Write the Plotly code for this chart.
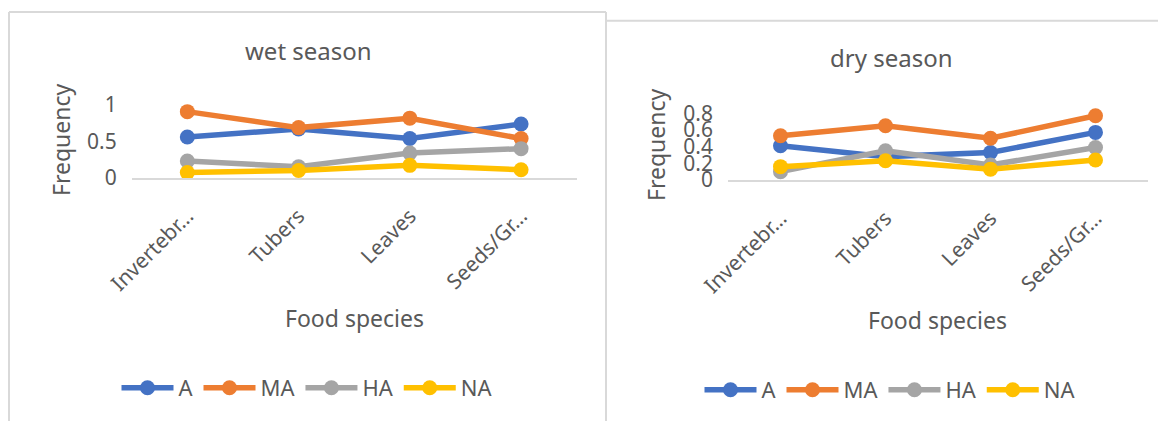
import plotly.graph_objects as go

W, H = 1166, 421
OFF = 8  # page body margin of the html page

categories = ["Invertebr…", "Tubers", "Leaves", "Seeds/Gr…"]
series_names = ["A", "MA", "HA", "NA"]
series_colors = ["#4472C4", "#ED7D31", "#A5A5A5", "#FFC000"]

wet_A = [0.56, 0.67, 0.54, 0.74]
wet_MA = [0.91, 0.69, 0.82, 0.54]
wet_HA = [0.23, 0.15, 0.34, 0.40]
wet_NA = [0.07, 0.10, 0.17, 0.11]

dry_A = [0.41, 0.28, 0.33, 0.57]
dry_MA = [0.53, 0.65, 0.50, 0.77]
dry_HA = [0.10, 0.35, 0.18, 0.39]
dry_NA = [0.16, 0.23, 0.13, 0.24]

wet_ticks = [0, 0.5, 1]
dry_ticks = [0, 0.2, 0.4, 0.6, 0.8]

TXT = "#595959"
FONT = "Noto Sans"

def px(x):
    return (x - OFF) / W

def py(y):
    return 1 - (y - OFF) / H

fig = go.Figure()

wet = [wet_A, wet_MA, wet_HA, wet_NA]
dry = [dry_A, dry_MA, dry_HA, dry_NA]

for name, col, vals in zip(series_names, series_colors, wet):
    fig.add_trace(go.Scatter(x=categories, y=vals, name=name, mode="lines+markers",
                             line=dict(color=col, width=5.5),
                             marker=dict(color=col, size=15),
                             cliponaxis=False, xaxis="x", yaxis="y", legend="legend"))
for name, col, vals in zip(series_names, series_colors, dry):
    fig.add_trace(go.Scatter(x=categories, y=vals, name=name, mode="lines+markers",
                             line=dict(color=col, width=5.5),
                             marker=dict(color=col, size=15),
                             cliponaxis=False, xaxis="x2", yaxis="y2", legend="legend2"))

xcommon = dict(type="category", showgrid=False, zeroline=False, showline=True,
               linecolor="#D9D9D9", linewidth=1.5, tickangle=-45, automargin=False,
               tickfont=dict(family=FONT, size=21, color=TXT), ticks="",
               ticklabelstandoff=16,
               range=[-0.5, 3.5], fixedrange=True)
ycommon = dict(showgrid=False, zeroline=False, showline=False, automargin=False,
               tickfont=dict(family=FONT, size=21, color=TXT), ticks="",
               ticklabelstandoff=14, fixedrange=True)

legfont = dict(family=FONT, size=22, color=TXT)

fig.update_layout(
    width=W, height=H,
    margin=dict(l=0, r=0, t=0, b=0, autoexpand=False),
    paper_bgcolor="white", plot_bgcolor="white",
    xaxis=dict(domain=[px(131.7), px(576.7)], anchor="y", **xcommon),
    yaxis=dict(domain=[py(177.7), py(105.1)], range=[0, 1], tickvals=wet_ticks,
               ticktext=["0", "0.5", "1"], anchor="x", **ycommon),
    xaxis2=dict(domain=[px(728), px(1148)], anchor="y2", **xcommon),
    yaxis2=dict(domain=[py(180), py(113.2)], range=[0, 0.8], tickvals=dry_ticks,
                ticktext=["0", "0.2", "0.4", "0.6", "0.8"], anchor="x2", **ycommon),
    legend=dict(orientation="h", x=px(307), y=py(388), xanchor="center", yanchor="middle",
                font=legfont, bgcolor="rgba(0,0,0,0)", itemwidth=52),
    legend2=dict(orientation="h", x=px(890), y=py(390), xanchor="center", yanchor="middle",
                 font=legfont, bgcolor="rgba(0,0,0,0)", itemwidth=52),
    showlegend=True,
)

annots = [
    dict(text="wet season", x=px(308), y=py(50), size=24, angle=0),
    dict(text="dry season", x=px(891), y=py(58), size=24, angle=0),
    dict(text="Frequency", x=px(61), y=py(140), size=23, angle=-90),
    dict(text="Frequency", x=px(656), y=py(145), size=23, angle=-90),
    dict(text="Food species", x=px(354), y=py(318), size=23, angle=0),
    dict(text="Food species", x=px(937), y=py(320), size=23, angle=0),
]
for a in annots:
    fig.add_annotation(text=a["text"], x=a["x"], y=a["y"], xref="paper", yref="paper",
                       xanchor="center", yanchor="middle", showarrow=False,
                       textangle=a["angle"], font=dict(family=FONT, size=a["size"], color=TXT))

border = dict(color="#D9D9D9", width=2)
fig.add_shape(type="line", xref="paper", yref="paper", x0=px(9), x1=px(606), y0=py(12), y1=py(12), line=border)
fig.add_shape(type="line", xref="paper", yref="paper", x0=px(9), x1=px(9), y0=py(12), y1=0, line=border)
fig.add_shape(type="line", xref="paper", yref="paper", x0=px(606), x1=px(606), y0=py(12), y1=0, line=border)
fig.add_shape(type="line", xref="paper", yref="paper", x0=px(606), x1=1, y0=py(20.7), y1=py(20.7), line=border)

fig.write_html("out.html")
